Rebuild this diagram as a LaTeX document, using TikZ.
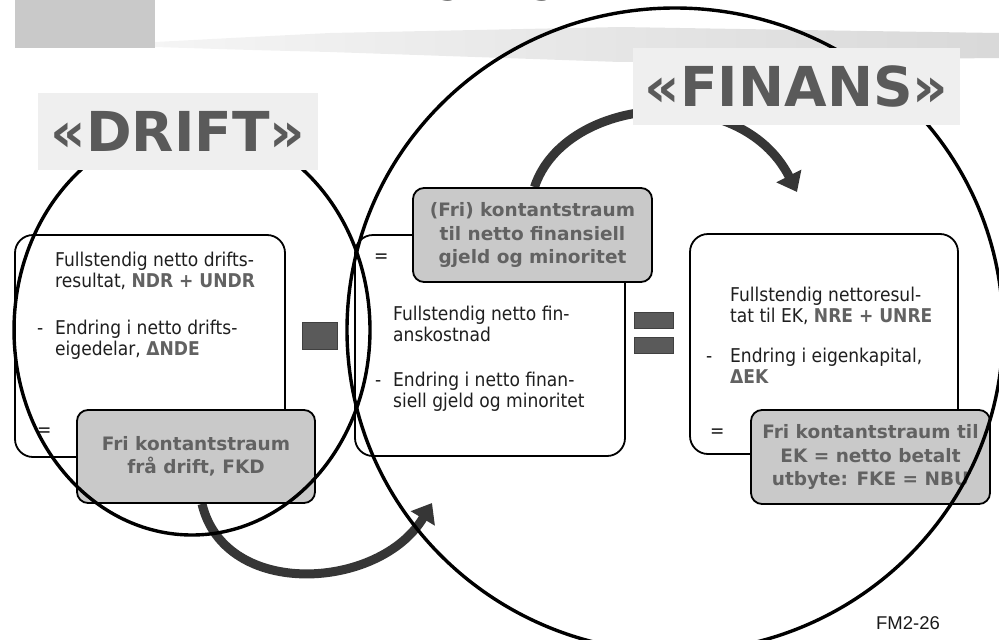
\documentclass[tikz,border=0pt]{standalone}
\usepackage{fontspec}
\IfFontExistsTF{DejaVu Sans Condensed}
  {\newfontfamily\bodyfont{DejaVu Sans Condensed}}
  {\newfontfamily\bodyfont{DejaVu Sans}[FakeStretch=0.9]}
\newfontfamily\headfont{DejaVu Sans}
\newfontfamily\slidefont{Liberation Sans}
\usetikzlibrary{arrows.meta, backgrounds, shapes}

\definecolor{signgray}{HTML}{5A5A5A}
\definecolor{boxgray}{HTML}{C9C9C9}
\definecolor{labelgray}{HTML}{EFEFEF}
\definecolor{textgray}{HTML}{626262}
\definecolor{arrowgray}{HTML}{363636}
\newcommand{\keyterm}[1]{\textbf{\textcolor{textgray}{#1}}}

\begin{document}
\begin{tikzpicture}[x=1pt, y=-1pt,
    txt/.style={anchor=north west, inner sep=0pt, align=left, text=black!88,
      font=\bodyfont\fontsize{19}{21}\selectfont},
    box/.style={draw, line width=1.8pt, rounded corners=18pt, fill=white, inner sep=0pt},
    graybox/.style={draw, line width=1.8pt, rounded corners=11pt, fill=boxgray, inner sep=0pt,
      align=center, text=textgray, font=\headfont\bfseries\fontsize{18.5}{23.5}\selectfont},
    sign/.style={draw=black!75, fill=signgray, line width=0.6pt, inner sep=0pt},
    heading/.style={fill=labelgray, inner sep=0pt, text=signgray,
      font=\headfont\bfseries\fontsize{55}{60}\selectfont},
    ring/.style={line width=3.4pt},
    flow/.style={-{Triangle[width=27pt,length=18pt]}, line width=9pt, draw=arrowgray}]
  \useasboundingbox (0,0) rectangle (999,640);
  \clip (0,0) rectangle (999,640);

  % three boxes
  \node[box, minimum width=270pt, minimum height=222pt] (drbox)  at (150,346)   {};
  \node[box, minimum width=270pt, minimum height=221pt] (fibox)  at (490,345.5) {};
  \node[box, minimum width=268pt, minimum height=220pt] (ekbox)  at (824,344)   {};

  % texts, drift
  \node[txt] (dr1) at (55,252) {\strut Fullstendig netto drifts-\\resultat, \keyterm{NDR + UNDR}};
  \node[txt] (drm) at (37,320) {\strut -};
  \node[txt] (dr2) at (55,320) {\strut Endring i netto drifts-\\eigedelar, \keyterm{ΔNDE}};
  \node[txt] (dre) at (37,422) {\strut =};
  % texts, finans
  \node[txt] (fie) at (374,248) {\strut =};
  \node[txt] (fi1) at (393,306) {\strut Fullstendig netto fin-\\anskostnad};
  \node[txt] (fim) at (375,372) {\strut -};
  \node[txt] (fi2) at (393,372) {\strut Endring i netto finan-\\siell gjeld og minoritet};
  % texts, eigenkapital
  \node[txt] (ek1) at (730,287) {\strut Fullstendig nettoresul-\\tat til EK, \keyterm{NRE + UNRE}};
  \node[txt] (ekm) at (706,348) {\strut -};
  \node[txt] (ek2) at (730,348) {\strut Endring i eigenkapital,\\\keyterm{ΔEK}};
  \node[txt] (eke) at (710,423) {\strut =};

  % kontantstraumar
  \node[graybox, minimum width=238pt, minimum height=93pt] (fkd)   at (196,456.5)
    {Fri kontantstraum\\frå drift, FKD};
  \node[graybox, minimum width=239pt, minimum height=94pt] (fkfin) at (532.5,235)
    {(Fri) kontantstraum\\til netto finansiell\\gjeld og minoritet};
  \node[graybox, minimum width=239pt, minimum height=94pt] (fke)   at (870.5,457)
    {Fri kontantstraum til\\EK = netto betalt\\utbyte: FKE = NBU};

  % minus and equals
  \node[sign, minimum width=35pt, minimum height=27pt] (minus) at (319.5,336) {};
  \node[sign, minimum width=39pt, minimum height=16pt] (eqtop) at (654,320.5) {};
  \node[sign, minimum width=39pt, minimum height=16pt] (eqbot) at (654,345)   {};

  % rings
  \draw[ring] (192,330) ellipse [x radius=178pt, y radius=205pt];
  \draw[ring] (675,330) ellipse [x radius=328pt, y radius=322pt];

  % headings
  \node[heading, minimum width=280pt, minimum height=77pt] (drift)  at (178,131.5) {«DRIFT»};
  \node[heading, minimum width=327pt, minimum height=77pt] (finans) at (796.5,86.5) {«FINANS»};

  \node[anchor=base, font=\headfont\bfseries\fontsize{38}{40}\selectfont] (title) at (560,0.5) {SAMSPELET};
  \node[font=\slidefont\fontsize{18.5}{20}\selectfont, text=black!90] (slideno) at (908,623) {FM2-26};

  \coordinate (ektip)  at (797,192);
  \coordinate (fintip) at (432,503);

  \begin{pgfonlayer}{background}
    \fill[black!21] (15,0) rectangle (155,48);
    \shade[left color=gray!8, right color=gray!30]
      (155,42) .. controls (250,37) .. (330,33) -- (620,27) .. controls (800,30) .. (999,33)
      -- (999,58) .. controls (800,60) .. (620,62) -- (330,52) .. controls (250,50) .. (155,47) -- cycle;
    \draw[flow] ([xshift=2pt]fkfin.north) .. controls (565,95) and (740,80) .. (ektip);
    \draw[flow] ([xshift=6pt]fkd.south) .. controls (225,600) and (380,590) .. (fintip);
  \end{pgfonlayer}
\end{tikzpicture}
\end{document}
